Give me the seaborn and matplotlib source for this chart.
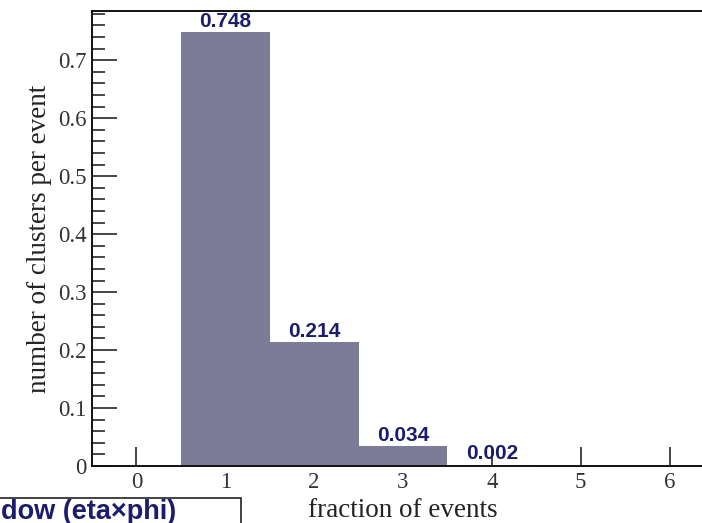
import matplotlib
matplotlib.use("Agg")
import matplotlib.pyplot as plt
from matplotlib.ticker import MultipleLocator
import seaborn as sns
import pandas as pd

# Histogram contents
multiplicity = [1, 2, 3, 4]
fractions = [0.748, 0.214, 0.034, 0.002]
x_ticks = [0, 1, 2, 3, 4, 5, 6]
y_ticks = [0, 0.1, 0.2, 0.3, 0.4, 0.5, 0.6, 0.7]

df = pd.DataFrame({"n": multiplicity, "frac": fractions})

sns.set_theme(style="ticks")
plt.rcParams["font.family"] = ["Liberation Serif", "DejaVu Serif"]

W, H = 702, 523
fig = plt.figure(figsize=(W / 100, H / 100), dpi=100)
fig.patch.set_facecolor("white")
ax = fig.add_axes([92 / W, 57 / H, (714 - 92) / W, 455 / H])

sns.histplot(data=df, x="n", weights="frac", discrete=True, ax=ax,
             color="#7c7c98", alpha=1.0, edgecolor="none", linewidth=0)

ax.set_xlim(-0.5, 6.5)
ax.set_ylim(0, 0.785)
ax.set_xticks(x_ticks)
ax.set_yticks(y_ticks)
ax.set_yticklabels(["0"] + [f"{t:.1f}" for t in y_ticks[1:]])
ax.yaxis.set_minor_locator(MultipleLocator(0.02))

ax.tick_params(axis="x", which="major", direction="in", length=14, width=1.2,
               labelsize=16.5, pad=4)
ax.tick_params(axis="y", which="major", direction="in", length=18, width=1.2,
               labelsize=16.5, pad=4)
ax.tick_params(axis="y", which="minor", direction="in", length=9, width=1.2)
for lbl in ax.get_xticklabels() + ax.get_yticklabels():
    lbl.set_color("#333333")

for side in ["left", "bottom", "top"]:
    ax.spines[side].set_linewidth(1.4)
    ax.spines[side].set_color("#111111")
ax.spines["right"].set_visible(False)

ax.set_xlabel("fraction of events", fontsize=19.5, color="#222222",
              labelpad=4)
ax.set_ylabel("number of clusters per event", fontsize=19.5, color="#222222",
              labelpad=4)

ax.bar_label(ax.containers[0], labels=[f"{v:.3f}" for v in fractions],
             padding=1, color="#1c1c6c", fontsize=15, fontweight="bold",
             family="Liberation Sans")

# Legend box partially outside the canvas
fig.text(1 / W, 1 - 519 / H, "dow (eta\u00d7phi)", fontsize=19.5,
         fontweight="bold", color="#1c1c6c", family="Liberation Sans",
         va="baseline", ha="left")
box = plt.Rectangle((-20 / W, -20 / H), 261 / W, (20 + 25) / H,
                    transform=fig.transFigure, fill=False,
                    edgecolor="#222222", linewidth=1.2)
fig.add_artist(box)

fig.savefig("out.png", dpi=100, facecolor="white")
